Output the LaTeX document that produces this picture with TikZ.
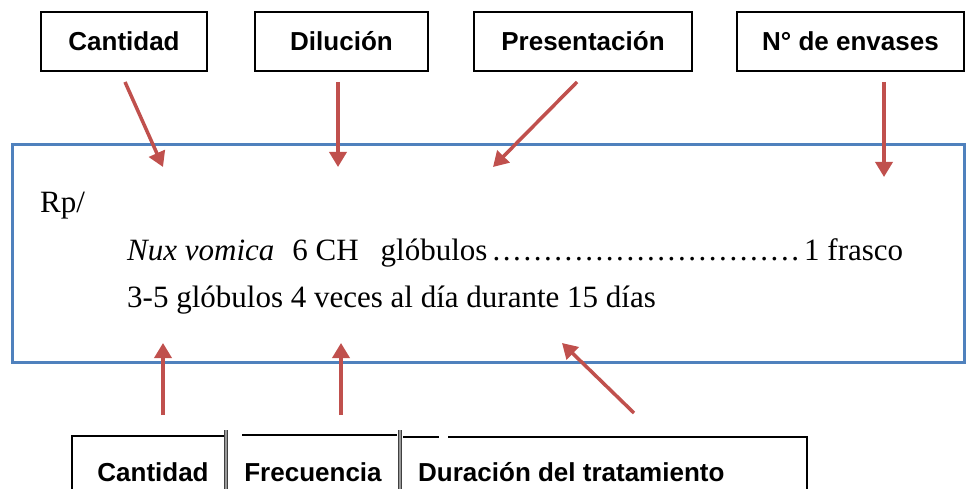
\documentclass[tikz,border=0pt]{standalone}
\usepackage{fontspec}
\setmainfont{Liberation Serif}
\newfontfamily\lblfont{Liberation Sans}
\usetikzlibrary{arrows.meta}
\definecolor{rxblue}{HTML}{4F81BD}
\definecolor{rxred}{HTML}{C0504D}

\begin{document}
\begin{tikzpicture}
[x=1pt,y=-1pt
,lbl/.style={draw,line width=2.5pt,minimum height=59pt,inner sep=0pt,font=\lblfont\bfseries\fontsize{26}{30}\selectfont}
,rx/.style={draw=rxblue,line width=3pt,minimum width=952pt,minimum height=217pt,inner sep=0pt}
,fl/.style={draw=rxred,line width=3.5pt,arrows={-Triangle[length=15pt,width=17pt]}}
,tx/.style={anchor=base west,inner sep=0pt,font=\fontsize{31}{37}\selectfont}
,pie/.style={anchor=base,inner sep=0pt,font=\lblfont\bfseries\fontsize{26}{30}\selectfont}
,celda/.style={line width=1.5pt}
,sep/.style={draw=black!75,line width=1.4pt,double=black!40,double distance=1.8pt}
]
\useasboundingbox (0,0) rectangle (966,489);
\clip (0,0) rectangle (966,489);
% etiquetas de arriba
\node[lbl,minimum width=166pt] (e1) at (124,41.5) {Cantidad};
\node[lbl,minimum width=173pt] (e2) at (341.5,41.5) {Dilución};
\node[lbl,minimum width=218pt] (e3) at (583,41.5) {Presentación};
\node[lbl,minimum width=227pt] (e4) at (850.5,41.5) {N° de envases};
% receta
\node[rx] (rp) at (488,253.5) {};
\node[tx] (t1) at (40,212) {Rp/};
\node[tx] (t2) at (127,260) {\hbox to 776pt{\textit{Nux vomica}\hspace{18pt}6 CH\hspace{22pt}glóbulos\cleaders\hbox to 10.3pt{\hss.\hss}\hfill 1 frasco}};
\node[tx] (t3) at (127,307) {3-5 glóbulos 4 veces al día durante 15 días};
% flechas de arriba
\coordinate (a1) at (125,82);
\coordinate (b1) at (163,167);
\coordinate (a2) at (338,82);
\coordinate (b2) at (338,167);
\coordinate (a3) at (577,82);
\coordinate (b3) at (493,167);
\coordinate (a4) at (884,82);
\coordinate (b4) at (884,177);
\draw[fl] (a1) -- (b1);
\draw[fl] (a2) -- (b2);
\draw[fl] (a3) -- (b3);
\draw[fl] (a4) -- (b4);
% flechas de abajo
\coordinate (a5) at (163,415);
\coordinate (b5) at (163,343);
\coordinate (a6) at (341,415);
\coordinate (b6) at (341,343);
\coordinate (a7) at (634,413);
\coordinate (b7) at (562,343);
\draw[fl] (a5) -- (b5);
\draw[fl] (a6) -- (b6);
\draw[fl] (a7) -- (b7);
% tabla de abajo
\draw[celda] (72,495) -- (72,436) -- (224,436);
\draw[celda] (242,435) -- (397,435);
\draw[celda] (403,437) -- (439,437);
\draw[celda] (448,437) -- (807,437) -- (807,495);
\draw[sep] (226,430) -- (226,495);
\draw[sep] (400,430) -- (400,495);
\node[pie] (p1) at (153,481) {Cantidad};
\node[pie] (p2) at (313,481) {Frecuencia};
\node[pie,anchor=base west] (p3) at (418,481) {Duración del tratamiento};
\end{tikzpicture}
\end{document}
